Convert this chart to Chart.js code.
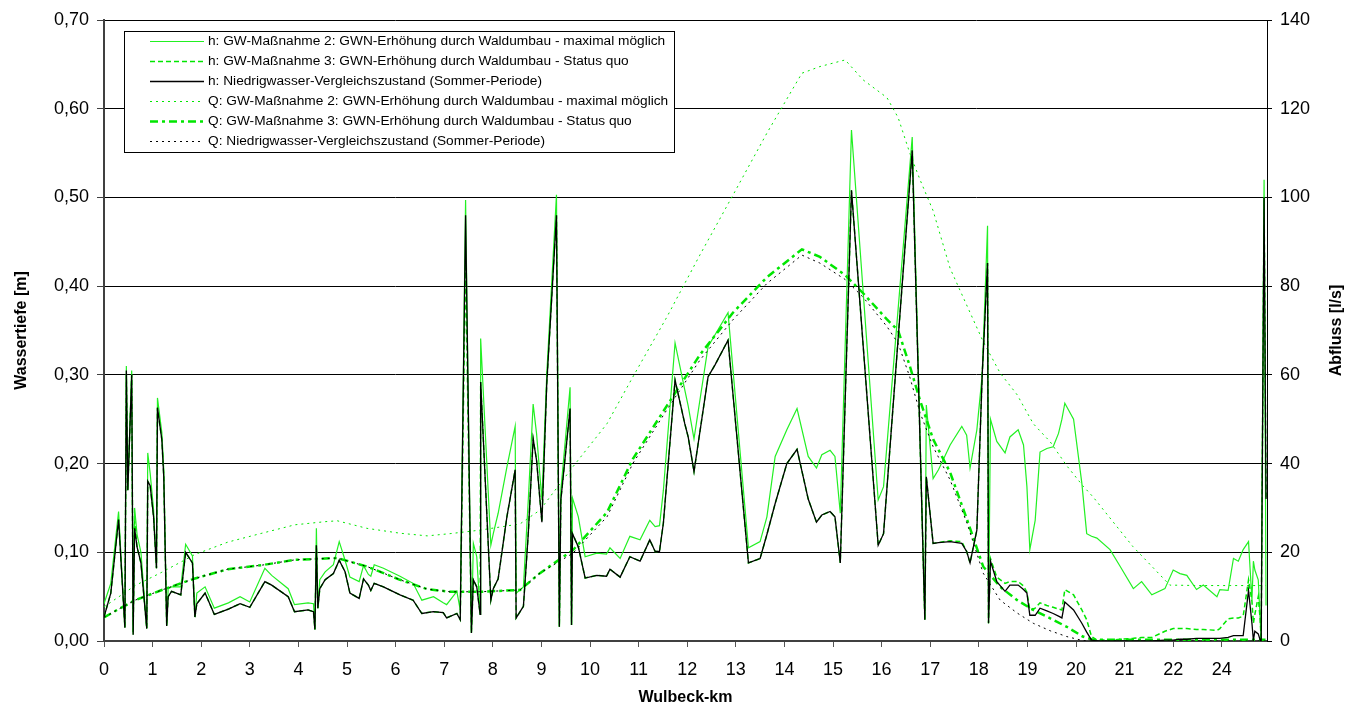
<!DOCTYPE html>
<html>
<head>
<meta charset="utf-8">
<script src="https://cdn.jsdelivr.net/npm/chart.js@4.4.0/dist/chart.umd.min.js"></script>
<style>
  html, body { margin: 0; padding: 0; background: #fff; }
</style>
</head>
<body>
<canvas id="abflussChart" width="1350" height="711"></canvas>
<script>
//! Wulbeck: Wassertiefe + Abfluss >>

// x axis position (category spacing as in the sheet), labels below
const xTickPos = [0, 1, 2, 3, 4, 5, 6, 7, 8, 9, 10, 11, 12, 13, 14, 15, 16, 17, 18, 19, 20, 21, 22, 23];
const xTickLabels = ['0', '1', '2', '3', '4', '5', '6', '7', '8', '9', '10', '11', '12', '13', '14', '15', '16', '17', '18', '19', '20', '21', '22', '24'];

const seriesLabels = [
  'h: GW-Maßnahme 2: GWN-Erhöhung durch Waldumbau - maximal möglich',
  'h: GW-Maßnahme 3: GWN-Erhöhung durch Waldumbau - Status quo',
  'h: Niedrigwasser-Vergleichszustand (Sommer-Periode)',
  'Q: GW-Maßnahme 2: GWN-Erhöhung durch Waldumbau - maximal möglich',
  'Q: GW-Maßnahme 3: GWN-Erhöhung durch Waldumbau - Status quo',
  'Q: Niedrigwasser-Vergleichszustand (Sommer-Periode)'
];

// water depth h [m]
const hKm = [
  0, 0.14, 0.30, 0.43, 0.46, 0.49, 0.57, 0.60, 0.63, 0.68,
  0.76, 0.88, 0.90, 0.95, 1.02, 1.08, 1.10, 1.19, 1.23, 1.29,
  1.32, 1.39, 1.58, 1.68, 1.82, 1.87, 1.91, 2.08, 2.27, 2.56,
  2.80, 3.00, 3.31, 3.45, 3.79, 3.92, 4.20, 4.31, 4.34, 4.37,
  4.40, 4.44, 4.55, 4.72, 4.84, 4.96, 5.06, 5.25, 5.34, 5.44,
  5.49, 5.56, 5.75, 6.09, 6.36, 6.54, 6.78, 6.98, 7.05, 7.26,
  7.33, 7.44, 7.56, 7.60, 7.67, 7.74, 7.75, 7.96, 8.01, 8.11,
  8.29, 8.46, 8.48, 8.63, 8.73, 8.83, 8.90, 9.01, 9.11, 9.31,
  9.37, 9.40, 9.59, 9.62, 9.64, 9.76, 9.90, 10.14, 10.34, 10.41,
  10.62, 10.82, 11.03, 11.23, 11.34, 11.43, 11.51, 11.75, 11.95, 12.02,
  12.14, 12.43, 12.57, 12.84, 13.26, 13.50, 13.64, 13.81, 14.05, 14.26,
  14.49, 14.66, 14.77, 14.94, 15.04, 15.15, 15.38, 15.93, 16.04, 16.63,
  16.89, 16.92, 17.06, 17.17, 17.41, 17.65, 17.75, 17.82, 17.96, 18.07,
  18.18, 18.20, 18.24, 18.37, 18.54, 18.64, 18.81, 18.92, 18.99, 19.05,
  19.16, 19.26, 19.40, 19.53, 19.64, 19.71, 19.77, 19.95, 20.12, 20.22,
  20.32, 20.43, 20.70, 20.91, 21.18, 21.35, 21.56, 21.83, 22.00, 22.14,
  22.28, 22.48, 22.62, 22.90, 22.96, 23.13, 23.24, 23.34, 23.44, 23.55,
  23.62, 23.65, 23.68, 23.75, 23.79, 23.81, 23.87, 23.91
];
const hGw2 = [
  .042, .065, .146, .015, .31, .17, .305, .007, .15, .12,
  .10, .014, .212, .189, .148, .082, .274, .235, .193, .017,
  .059, .061, .061, .109, .096, .027, .054, .061, .037, .043,
  .05, .044, .082, .074, .059, .041, .043, .042, .013, .127,
  .037, .069, .078, .086, .112, .091, .072, .067, .085, .075,
  .073, .086, .082, .073, .065, .046, .05, .043, .041, .056,
  .035, .497, .009, .11, .095, .03, .341, .108, .121, .144,
  .196, .242, .054, .061, .159, .267, .234, .159, .30, .503,
  .016, .17, .286, .018, .161, .14, .095, .099, .098, .105,
  .093, .118, .114, .136, .129, .13, .17, .336, .283, .265,
  .228, .332, .345, .37, .105, .112, .14, .208, .238, .262,
  .208, .195, .21, .215, .208, .144, .576, .159, .174, .568,
  .024, .266, .183, .193, .221, .242, .232, .195, .238, .30,
  .468, .02, .25, .225, .212, .23, .238, .221, .174, .103,
  .136, .213, .217, .219, .234, .25, .268, .25, .178, .121,
  .118, .116, .103, .084, .059, .067, .052, .059, .08, .076,
  .074, .058, .063, .05, .058, .057, .093, .09, .103, .112,
  .046, .09, .08, .069, .024, .001, .52, .04
];
const hGw3 = [
  .027, .054, .137, .015, .30, .17, .30, .01, .135, .106,
  .088, .014, .18, .175, .14, .082, .263, .227, .185, .017,
  .05, .056, .052, .10, .088, .027, .042, .054, .03, .036,
  .042, .038, .067, .063, .05, .033, .035, .033, .013, .108,
  .037, .059, .069, .076, .091, .078, .054, .048, .07, .063,
  .057, .065, .061, .052, .046, .031, .033, .032, .026, .031,
  .024, .43, .009, .069, .061, .03, .292, .046, .059, .07,
  .14, .193, .026, .039, .121, .228, .204, .134, .29, .48,
  .016, .159, .262, .018, .121, .106, .071, .074, .073, .081,
  .072, .095, .09, .114, .101, .101, .133, .294, .245, .23,
  .191, .298, .311, .339, .088, .093, .12, .155, .20, .216,
  .16, .134, .142, .146, .14, .088, .508, .108, .121, .553,
  .024, .185, .11, .111, .113, .112, .101, .088, .125, .30,
  .426, .02, .093, .072, .065, .067, .067, .062, .055, .035,
  .037, .043, .04, .038, .036, .035, .058, .052, .035, .024,
  .005, .001, .001, .002, .003, .004, .004, .011, .014, .014,
  .014, .013, .013, .012, .014, .025, .026, .026, .028, .069,
  .045, .02, .03, .05, .024, .001, .50, .16
];
const hBase = [
  .027, .054, .137, .015, .305, .17, .30, .007, .127, .106,
  .088, .014, .18, .175, .14, .082, .263, .227, .185, .017,
  .05, .056, .052, .10, .088, .027, .042, .054, .03, .036,
  .042, .038, .067, .063, .05, .033, .035, .033, .013, .108,
  .037, .059, .069, .076, .091, .078, .054, .048, .07, .063,
  .057, .065, .061, .052, .046, .031, .033, .032, .026, .031,
  .024, .48, .009, .069, .061, .03, .292, .046, .059, .07,
  .14, .193, .026, .039, .121, .228, .204, .134, .29, .48,
  .016, .159, .262, .018, .121, .106, .071, .074, .073, .081,
  .072, .095, .09, .114, .101, .101, .133, .294, .245, .23,
  .191, .298, .311, .339, .088, .093, .12, .155, .20, .216,
  .16, .134, .142, .146, .14, .088, .508, .108, .121, .553,
  .024, .185, .11, .111, .112, .11, .101, .088, .125, .30,
  .426, .02, .09, .067, .056, .063, .063, .058, .054, .029,
  .029, .037, .034, .031, .028, .026, .044, .035, .02, .01,
  .001, 0, 0, 0, 0, 0, 0, .001, .001, .002,
  .002, .003, .003, .003, .003, .004, .006, .006, .006, .057,
  .02, .001, .011, .008, .001, 0, .50, .16
];

// discharge Q [l/s]
const qKm = [
  0, 0.27, 0.64, 1.19, 1.87, 2.55, 3.25, 3.93, 4.55, 4.80,
  5.41, 6.09, 6.65, 7.12, 7.74, 8.56, 8.97, 9.65, 10.35, 10.88,
  11.58, 12.26, 12.94, 13.64, 14.36, 14.73, 15.25, 15.62, 16.11, 16.34,
  16.58, 16.79, 17.06, 17.41, 17.76, 18.09, 18.44, 18.79, 19.12, 19.47,
  19.81, 20.14, 20.35, 21.17, 21.93, 22.55, 23.17, 23.74, 23.90
];
const qGw2 = [
  7.7, 9.7, 12.5, 15.5, 19.5, 22.3, 24.3, 26.2, 26.9, 27.1,
  25.4, 24.3, 23.7, 24.2, 25.0, 26.4, 29.5, 39.3, 49, 59.5,
  73, 87, 100.5, 114.5, 128, 129.5, 131, 126.5, 122.5, 118,
  110, 104, 97, 84, 75.5, 67.5, 60.4, 55.5, 49, 44.9,
  39.5, 35, 32.5, 21.3, 12.6, 12.5, 12.5, 12.5, 12.5
];
const qGw3 = [
  5.3, 7.0, 9.2, 11.5, 14.1, 16.2, 17.1, 18.3, 18.6, 18.7,
  16.8, 13.8, 11.7, 11.1, 11.1, 11.5, 15.3, 20.5, 29, 41,
  53, 64.5, 74, 82, 88.3, 86.6, 82.5, 78.4, 72.5, 70,
  62, 54.3, 45.5, 38, 27.3, 16.8, 12.2, 9.2, 7.0, 5.1,
  3.2, 1.0, 0.3, 0.3, 0.3, 0.3, 0.3, 0.3, 0.3
];
const qBase = [
  5.3, 7.0, 9.2, 11.5, 14.1, 16.2, 17.1, 18.3, 18.6, 18.7,
  16.8, 13.8, 11.7, 11.1, 11.1, 11.5, 15.3, 19.8, 28.0, 40,
  52.1, 63.3, 72.4, 80.6, 87.0, 85.2, 81.5, 77.5, 70.9, 67.1,
  59.5, 51.5, 43.8, 36.3, 26.5, 15.3, 9.2, 6.3, 4.0, 2.3,
  1.0, 0.1, 0, 0, 0, 0, 0, 0, 0
];

const pts = (xs, ys) => xs.map((x, i) => ({ x: x, y: ys[i] }));

const FONT = '"Liberation Sans", Arial, sans-serif';
Chart.defaults.font.family = FONT;
Chart.defaults.color = '#000';

// legend inside the plot + right axis title (reads bottom to top)
const boxLegend = {
  id: 'boxLegend',
  afterDraw(chart) {
    const ctx = chart.ctx;
    const sets = chart.data.datasets;
    ctx.save();
    ctx.font = '13.7px ' + FONT;
    const maxW = Math.max(...sets.map(d => ctx.measureText(d.label).width));
    const left = 124.5, top = 31.5, textX = 208;
    const w = Math.round(textX - left + maxW + 6);
    const h = 121;
    ctx.fillStyle = '#fff';
    ctx.fillRect(left, top, w, h);
    ctx.strokeStyle = '#000';
    ctx.lineWidth = 1;
    ctx.setLineDash([]);
    ctx.strokeRect(left, top, w, h);
    ctx.textBaseline = 'middle';
    sets.forEach((d, i) => {
      const y = 41.5 + i * 20;
      ctx.beginPath();
      ctx.setLineDash(d.borderDash || []);
      ctx.strokeStyle = d.borderColor;
      ctx.lineWidth = d.borderWidth;
      ctx.moveTo(150, y);
      ctx.lineTo(204, y);
      ctx.stroke();
      ctx.fillStyle = '#000';
      ctx.fillText(d.label, textX, y);
    });
    ctx.setLineDash([]);
    ctx.font = 'bold 16px ' + FONT;
    ctx.textAlign = 'center';
    ctx.translate(1337, (chart.chartArea.top + chart.chartArea.bottom) / 2);
    ctx.rotate(-Math.PI / 2);
    ctx.fillText('Abfluss [l/s]', 0, 0);
    ctx.restore();
  }
};

new Chart('abflussChart', {
  type: 'line',
  data: {
    datasets: [
      { label: seriesLabels[0], data: pts(hKm, hGw2), yAxisID: 'y', borderColor: '#22f022', borderWidth: 1.2, order: 4 },
      { label: seriesLabels[1], data: pts(hKm, hGw3), yAxisID: 'y', borderColor: '#00e600', borderWidth: 1.5, borderDash: [5, 3], order: 2 },
      { label: seriesLabels[2], data: pts(hKm, hBase), yAxisID: 'y', borderColor: '#000', borderWidth: 1.3, order: 0 },
      { label: seriesLabels[3], data: pts(qKm, qGw2), yAxisID: 'y1', borderColor: '#00e600', borderWidth: 1, borderDash: [2, 4], order: 5 },
      { label: seriesLabels[4], data: pts(qKm, qGw3), yAxisID: 'y1', borderColor: '#00e600', borderWidth: 2.5, borderDash: [8, 4, 3, 4], order: 3 },
      { label: seriesLabels[5], data: pts(qKm, qBase), yAxisID: 'y1', borderColor: '#000', borderWidth: 1, borderDash: [2, 4], order: 1 }
    ]
  },
  options: {
    responsive: false,
    animation: false,
    devicePixelRatio: 1,
    layout: { padding: { top: 20, left: 0, right: 0, bottom: 0 } },
    elements: {
      point: { radius: 0 },
      line: { tension: 0, fill: false }
    },
    plugins: {
      legend: { display: false },
      tooltip: { enabled: false }
    },
    scales: {
      x: {
        type: 'linear',
        min: 0,
        max: 23.93,
        afterBuildTicks: s => { s.ticks = xTickPos.map(v => ({ value: v })); },
        afterFit: s => { s.height = 70; },
        grid: { drawOnChartArea: false, tickLength: 6, color: '#555' },
        border: { color: '#404040', width: 2 },
        ticks: {
          autoSkip: false, maxRotation: 0, padding: 12,
          font: { size: 18 },
          callback: (v, i) => xTickLabels[i]
        },
        title: { display: true, text: 'Wulbeck-km', font: { size: 16, weight: 'bold' }, padding: { top: 0, bottom: 4 } }
      },
      y: {
        position: 'left',
        min: 0,
        max: 0.7,
        afterFit: s => { s.width = 104; },
        grid: { color: '#000', lineWidth: 1, tickLength: 7, tickColor: '#404040' },
        border: { color: '#404040', width: 2 },
        ticks: {
          stepSize: 0.1, padding: 8,
          font: { size: 18 },
          callback: v => v.toFixed(2).replace('.', ',')
        },
        title: { display: true, text: 'Wassertiefe [m]', font: { size: 16, weight: 'bold' }, padding: { top: 12, bottom: 0 } }
      },
      y1: {
        position: 'right',
        min: 0,
        max: 140,
        afterFit: s => { s.width = 83; },
        grid: { drawOnChartArea: false, tickLength: 5, color: '#000' },
        border: { color: '#000', width: 1 },
        ticks: { stepSize: 20, padding: 8, font: { size: 18 } }
      }
    }
  },
  plugins: [boxLegend]
});
</script>
</body>
</html>
